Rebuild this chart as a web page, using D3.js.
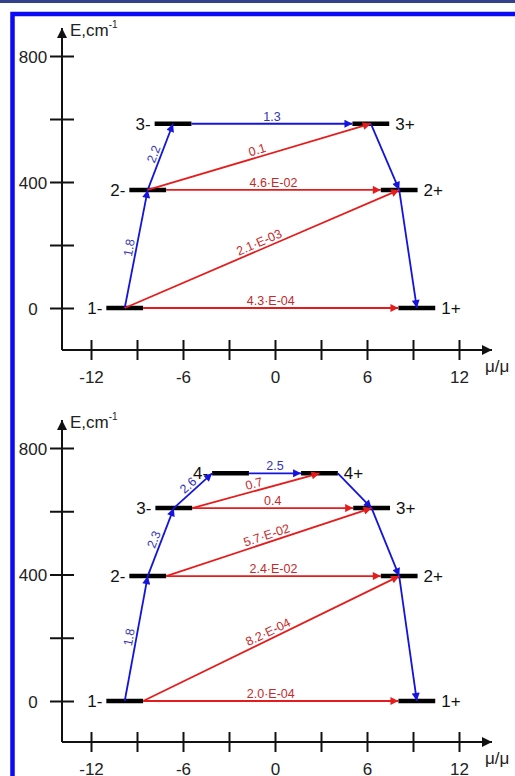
<!DOCTYPE html>
<html>
<head>
<meta charset="utf-8">
<script src="https://cdn.jsdelivr.net/npm/d3@7"></script>
<style>
  body { margin: 0; background: #fff; }
  text { font-family: "Liberation Sans", Arial, sans-serif; }
</style>
</head>
<body>
<svg id="chart"></svg>
<script>
const W = 515, H = 776;

// axis ticks
const xTicks = [-12, -9, -6, -3, 0, 3, 6, 9, 12];
const xLabelled = [-12, -6, 0, 6, 12];
const yTicks = [0, 200, 400, 600, 800];
const yLabelled = [0, 400, 800];

// top panel: levels (name, mu centre, energy in cm-1)
const levelNames1 = ["1-", "2-", "3-", "1+", "2+", "3+"];
const levelMu1 = [-9.8, -8.3, -6.65, 9.25, 8.1, 6.25];
const levelE1 = [0, 375, 585, 0, 375, 585];

// top panel transitions: from, to, anchor on each bar (c centre, l left end, r right end)
const trans1 = [
  { from: "1-", fa: "c", to: "2-", ta: "c", label: "1.8", kind: "blue" },
  { from: "2-", fa: "c", to: "3-", ta: "c", label: "2.2", kind: "blue" },
  { from: "3-", fa: "r", to: "3+", ta: "l", label: "1.3", kind: "blue" },
  { from: "3+", fa: "c", to: "2+", ta: "c", label: "", kind: "blue" },
  { from: "2+", fa: "c", to: "1+", ta: "c", label: "", kind: "blue" },
  { from: "1-", fa: "r", to: "1+", ta: "l", label: "4.3·E-04", kind: "red" },
  { from: "1-", fa: "c", to: "2+", ta: "c", label: "2.1·E-03", kind: "red" },
  { from: "2-", fa: "r", to: "2+", ta: "l", label: "4.6·E-02", kind: "red" },
  { from: "2-", fa: "c", to: "3+", ta: "c", label: "0.1", kind: "red" }
];

// bottom panel levels
const levelNames2 = ["1-", "2-", "3-", "4-", "1+", "2+", "3+", "4+"];
const levelMu2 = [-9.8, -8.3, -6.6, -2.9, 9.25, 8.1, 6.3, 2.9];
const levelE2 = [0, 395, 610, 720, 0, 395, 610, 720];

const trans2 = [
  { from: "1-", fa: "c", to: "2-", ta: "c", label: "1.8", kind: "blue" },
  { from: "2-", fa: "c", to: "3-", ta: "c", label: "2.3", kind: "blue" },
  { from: "3-", fa: "c", to: "4-", ta: "l", label: "2.6", kind: "blue" },
  { from: "4-", fa: "r", to: "4+", ta: "l", label: "2.5", kind: "blue" },
  { from: "4+", fa: "r", to: "3+", ta: "c", label: "", kind: "blue" },
  { from: "3+", fa: "c", to: "2+", ta: "c", label: "", kind: "blue" },
  { from: "2+", fa: "c", to: "1+", ta: "c", label: "", kind: "blue" },
  { from: "1-", fa: "r", to: "1+", ta: "l", label: "2.0·E-04", kind: "red" },
  { from: "1-", fa: "r", to: "2+", ta: "c", label: "8.2·E-04", kind: "red" },
  { from: "2-", fa: "r", to: "2+", ta: "l", label: "2.4·E-02", kind: "red" },
  { from: "2-", fa: "r", to: "3+", ta: "c", label: "5.7·E-02", kind: "red" },
  { from: "3-", fa: "r", to: "3+", ta: "l", label: "0.4", kind: "red" },
  { from: "3-", fa: "r", to: "4+", ta: "c", label: "0.7", kind: "red" }
];

const BAR_HALF = 1.2;
const colors = { blue: "#1414dc", red: "#e61c1c" };
const labelColors = { blue: "#3434b4", red: "#c42a2a" };

const svg = d3.select("#chart").attr("width", W).attr("height", H);
svg.append("rect").attr("width", W).attr("height", H).attr("fill", "#fff");

// frame
svg.append("line").attr("x1", 0).attr("x2", W).attr("y1", 1.5).attr("y2", 1.5)
  .attr("stroke", "#34428c").attr("stroke-width", 3);
svg.append("rect").attr("x", 12.5).attr("y", 14).attr("width", 700).attr("height", 900)
  .attr("fill", "none").attr("stroke", "#0a0af5").attr("stroke-width", 4.5);

const defs = svg.append("defs");
function marker(id, color, w, h) {
  defs.append("marker").attr("id", id)
    .attr("viewBox", "0 0 10 10").attr("refX", 10).attr("refY", 5)
    .attr("markerWidth", w).attr("markerHeight", h)
    .attr("markerUnits", "userSpaceOnUse").attr("orient", "auto")
    .append("path").attr("d", "M0,0 L10,5 L0,10 z").attr("fill", color);
}
marker("arrow-blue", colors.blue, 10, 8);
marker("arrow-red", colors.red, 10, 8);
marker("arrow-axis", "#111", 13, 10);

const x = d3.scaleLinear().domain([-12, 12]).range([91, 459]);

function drawPanel(names, mus, energies, trans, yRange, axisY, topY) {
  const g = svg.append("g");
  const y = d3.scaleLinear().domain([0, 800]).range(yRange);
  const axisX = 62;

  // x axis
  const xa = g.append("g").attr("transform", "translate(0," + axisY + ")")
    .call(d3.axisBottom(x).tickValues(xTicks)
      .tickFormat(d => xLabelled.includes(d) ? d : ""));
  xa.select(".domain").remove();
  xa.selectAll(".tick line").attr("y1", -10).attr("y2", 10)
    .attr("stroke", "#111").attr("stroke-width", 2);
  xa.selectAll(".tick text").attr("y", 33).attr("dy", 0)
    .attr("font-size", 17).attr("fill", "#222")
    .attr("font-family", "Liberation Sans, Arial, sans-serif");
  g.append("line").attr("x1", axisX).attr("x2", 492).attr("y1", axisY).attr("y2", axisY)
    .attr("stroke", "#111").attr("stroke-width", 2).attr("marker-end", "url(#arrow-axis)");
  g.append("text").attr("x", 485).attr("y", axisY + 22).attr("font-size", 17)
    .attr("fill", "#222").text("μ/μ");

  // y axis
  const ya = g.append("g").attr("transform", "translate(" + axisX + ",0)")
    .call(d3.axisLeft(y).tickValues(yTicks)
      .tickFormat(d => yLabelled.includes(d) ? d : ""));
  ya.select(".domain").remove();
  ya.selectAll(".tick line").attr("x1", -12).attr("x2", 12)
    .attr("stroke", "#111").attr("stroke-width", 2);
  ya.selectAll(".tick text").attr("x", -29).attr("dy", "0.36em")
    .attr("text-anchor", "middle")
    .attr("font-size", 17).attr("fill", "#222")
    .attr("font-family", "Liberation Sans, Arial, sans-serif");
  g.append("line").attr("x1", axisX).attr("x2", axisX).attr("y1", axisY).attr("y2", topY)
    .attr("stroke", "#111").attr("stroke-width", 2).attr("marker-end", "url(#arrow-axis)");
  const yl = g.append("text").attr("x", 70).attr("y", topY + 8).attr("font-size", 17)
    .attr("fill", "#222");
  yl.append("tspan").text("E,cm");
  yl.append("tspan").attr("font-size", 10).attr("dy", -8).text("-1");

  // levels
  const lv = {};
  names.forEach((n, i) => { lv[n] = { mu: mus[i], E: energies[i] }; });
  const pt = (n, a) => {
    const d = lv[n];
    const m = a === "l" ? d.mu - BAR_HALF : a === "r" ? d.mu + BAR_HALF : d.mu;
    return [x(m), y(d.E)];
  };

  g.selectAll(".bar").data(names).join("line").attr("class", "bar")
    .attr("x1", n => x(lv[n].mu - BAR_HALF)).attr("x2", n => x(lv[n].mu + BAR_HALF))
    .attr("y1", n => y(lv[n].E)).attr("y2", n => y(lv[n].E))
    .attr("stroke", "#000").attr("stroke-width", 4.5);

  g.selectAll(".lvlabel").data(names).join("text").attr("class", "lvlabel")
    .attr("x", n => n.endsWith("-") ? x(lv[n].mu - BAR_HALF) - 4 : x(lv[n].mu + BAR_HALF) + 6)
    .attr("y", n => y(lv[n].E)).attr("dy", "0.36em")
    .attr("text-anchor", n => n.endsWith("-") ? "end" : "start")
    .attr("font-size", 17).attr("fill", "#111").text(n => n);

  // transitions
  trans.forEach(t => {
    const [x1, y1] = pt(t.from, t.fa);
    const [x2, y2] = pt(t.to, t.ta);
    g.append("line").attr("x1", x1).attr("y1", y1).attr("x2", x2).attr("y2", y2)
      .attr("stroke", colors[t.kind]).attr("stroke-width", 1.8)
      .attr("marker-end", "url(#arrow-" + t.kind + ")");
    if (t.label) {
      const ang = Math.atan2(y2 - y1, x2 - x1) * 180 / Math.PI;
      g.append("text")
        .attr("transform", "translate(" + (x1 + x2) / 2 + "," + (y1 + y2) / 2 + ") rotate(" + ang + ")")
        .attr("y", -3).attr("text-anchor", "middle")
        .attr("font-size", 12.5).attr("fill", labelColors[t.kind]).text(t.label);
    }
  });
}

drawPanel(levelNames1, levelMu1, levelE1, trans1, [308, 56], 350, 28);
drawPanel(levelNames2, levelMu2, levelE2, trans2, [701, 448], 742, 420);
</script>
</body>
</html>
